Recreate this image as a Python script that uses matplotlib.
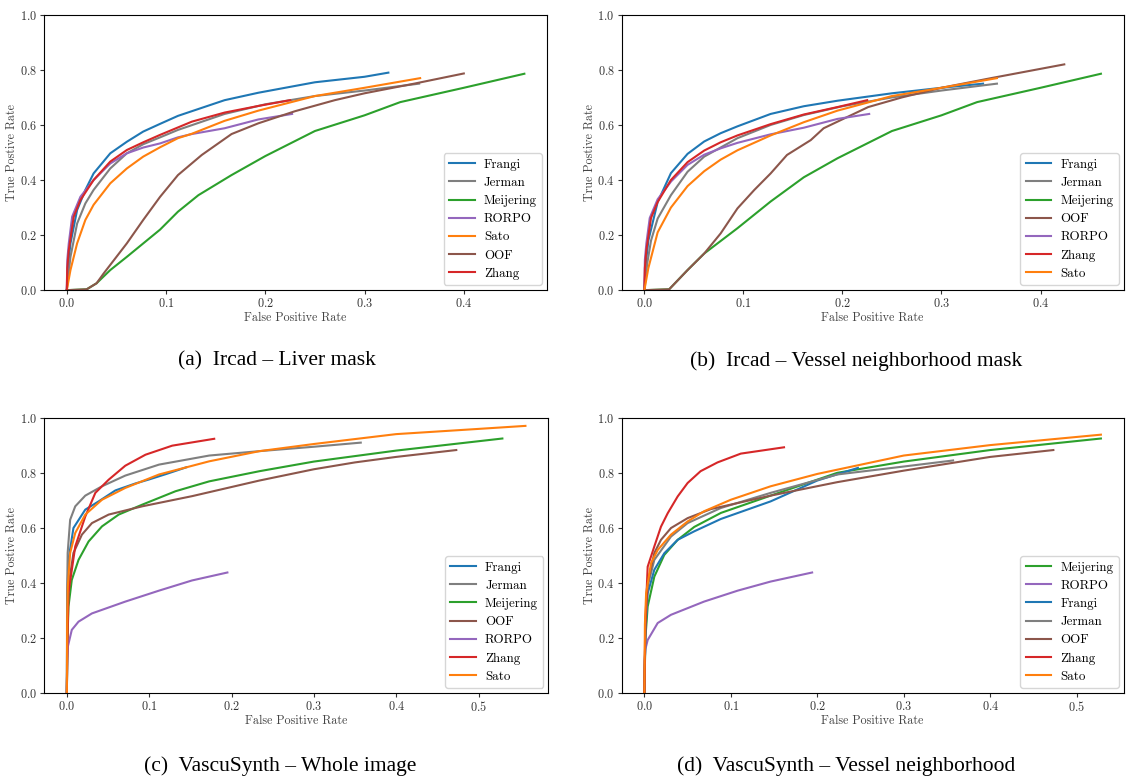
import numpy as np
import matplotlib
matplotlib.use('Agg')
import matplotlib.pyplot as plt

plt.rcParams['font.family'] = ['cmr10', 'DejaVu Serif']
plt.rcParams['axes.formatter.use_mathtext'] = True
plt.rcParams['mathtext.fontset'] = 'cm'

C = {'Frangi': '#1f77b4', 'Jerman': '#7f7f7f', 'Meijering': '#2ca02c', 'RORPO': '#9467bd',
     'Sato': '#ff7f0e', 'OOF': '#8c564b', 'Zhang': '#d62728'}

# ---- (a) Ircad - Liver mask ----
a_frangi_x = [0, 0.001, 0.0037, 0.0104, 0.0187, 0.027, 0.0438, 0.0605, 0.077, 0.094, 0.112, 0.126, 0.159, 0.193, 0.25, 0.3, 0.324]
a_frangi_y = [0, 0.08, 0.17, 0.291, 0.364, 0.424, 0.497, 0.539, 0.576, 0.604, 0.633, 0.65, 0.69, 0.717, 0.755, 0.775, 0.79]
a_jerman_x = [0, 0.0037, 0.0104, 0.0187, 0.027, 0.0438, 0.0605, 0.077, 0.094, 0.112, 0.159, 0.2, 0.25, 0.3, 0.355]
a_jerman_y = [0, 0.121, 0.242, 0.315, 0.364, 0.442, 0.497, 0.53, 0.555, 0.582, 0.64, 0.675, 0.705, 0.725, 0.75]
a_meij_x = [0, 0.02, 0.03, 0.0438, 0.0605, 0.094, 0.112, 0.1326, 0.166, 0.2, 0.25, 0.3, 0.336, 0.4, 0.461]
a_meij_y = [0, 0.003, 0.025, 0.073, 0.121, 0.22, 0.285, 0.345, 0.418, 0.487, 0.578, 0.635, 0.683, 0.735, 0.786]
a_rorpo_x = [0, 0.0005, 0.002, 0.0054, 0.0137, 0.027, 0.0438, 0.0605, 0.077, 0.094, 0.112, 0.126, 0.159, 0.193, 0.227]
a_rorpo_y = [0, 0.11, 0.17, 0.267, 0.339, 0.40, 0.46, 0.497, 0.518, 0.533, 0.555, 0.567, 0.588, 0.62, 0.64]
a_sato_x = [0, 0.0037, 0.0104, 0.0187, 0.027, 0.0438, 0.0605, 0.077, 0.094, 0.112, 0.126, 0.159, 0.193, 0.25, 0.3, 0.356]
a_sato_y = [0, 0.073, 0.17, 0.255, 0.31, 0.388, 0.442, 0.485, 0.519, 0.552, 0.568, 0.615, 0.652, 0.705, 0.735, 0.77]
a_oof_x = [0, 0.02, 0.03, 0.037, 0.0605, 0.077, 0.094, 0.112, 0.136, 0.166, 0.193, 0.23, 0.27, 0.3, 0.35, 0.4]
a_oof_y = [0, 0.003, 0.025, 0.06, 0.17, 0.255, 0.339, 0.418, 0.491, 0.567, 0.606, 0.65, 0.69, 0.715, 0.75, 0.787]
a_zhang_x = [0, 0.0005, 0.002, 0.007, 0.0137, 0.027, 0.0438, 0.0605, 0.077, 0.094, 0.112, 0.126, 0.159, 0.193, 0.225]
a_zhang_y = [0, 0.08, 0.145, 0.267, 0.327, 0.40, 0.467, 0.509, 0.537, 0.564, 0.591, 0.612, 0.645, 0.669, 0.69]

# ---- (b) Ircad - Vessel neighborhood mask ----
b_frangi_x = [0, 0.001, 0.004, 0.0134, 0.0268, 0.0436, 0.0604, 0.077, 0.094, 0.1275, 0.161, 0.195, 0.25, 0.3, 0.342]
b_frangi_y = [0, 0.08, 0.18, 0.32, 0.425, 0.495, 0.54, 0.57, 0.595, 0.64, 0.668, 0.688, 0.715, 0.735, 0.75]
b_jerman_x = [0, 0.003, 0.0067, 0.0134, 0.0268, 0.0436, 0.0604, 0.094, 0.1275, 0.161, 0.2, 0.25, 0.3, 0.356]
b_jerman_y = [0, 0.10, 0.18, 0.26, 0.345, 0.43, 0.485, 0.552, 0.60, 0.636, 0.668, 0.70, 0.725, 0.75]
b_meij_x = [0, 0.025, 0.0436, 0.0604, 0.094, 0.1275, 0.161, 0.195, 0.25, 0.3, 0.336, 0.4, 0.461]
b_meij_y = [0, 0.003, 0.073, 0.133, 0.225, 0.322, 0.41, 0.479, 0.578, 0.635, 0.683, 0.735, 0.786]
b_oof_x = [0, 0.025, 0.0436, 0.0604, 0.077, 0.094, 0.111, 0.1275, 0.144, 0.168, 0.181, 0.195, 0.226, 0.26, 0.3, 0.35, 0.424]
b_oof_y = [0, 0.003, 0.073, 0.133, 0.206, 0.297, 0.364, 0.424, 0.491, 0.545, 0.588, 0.612, 0.665, 0.70, 0.735, 0.77, 0.82]
b_rorpo_x = [0, 0.0005, 0.002, 0.0054, 0.0134, 0.027, 0.0436, 0.0604, 0.077, 0.094, 0.1275, 0.161, 0.195, 0.227]
b_rorpo_y = [0, 0.11, 0.17, 0.262, 0.33, 0.395, 0.455, 0.492, 0.515, 0.535, 0.566, 0.59, 0.622, 0.64]
b_zhang_x = [0, 0.0005, 0.002, 0.0067, 0.0134, 0.0268, 0.0436, 0.0604, 0.077, 0.094, 0.1275, 0.161, 0.195, 0.225]
b_zhang_y = [0, 0.08, 0.145, 0.262, 0.32, 0.40, 0.465, 0.507, 0.537, 0.562, 0.603, 0.638, 0.665, 0.69]
b_sato_x = [0, 0.004, 0.0134, 0.0268, 0.0436, 0.0604, 0.077, 0.094, 0.1275, 0.161, 0.195, 0.25, 0.3, 0.356]
b_sato_y = [0, 0.08, 0.21, 0.30, 0.378, 0.432, 0.474, 0.508, 0.562, 0.61, 0.652, 0.705, 0.735, 0.77]

# ---- (c) VascuSynth - Whole image ----
c_frangi_x = [0, 0.0005, 0.002, 0.008, 0.0224, 0.0386, 0.059, 0.083, 0.1, 0.12, 0.145]
c_frangi_y = [0, 0.35, 0.485, 0.601, 0.668, 0.698, 0.738, 0.763, 0.778, 0.797, 0.822]
c_jerman_x = [0, 0.0003, 0.001, 0.004, 0.0102, 0.0224, 0.0427, 0.071, 0.112, 0.173, 0.234, 0.3, 0.357]
c_jerman_y = [0, 0.35, 0.51, 0.631, 0.68, 0.719, 0.753, 0.792, 0.832, 0.865, 0.881, 0.897, 0.912]
c_meij_x = [0, 0.0008, 0.002, 0.006, 0.0142, 0.0264, 0.0427, 0.063, 0.0915, 0.132, 0.173, 0.234, 0.3, 0.4, 0.529]
c_meij_y = [0, 0.2, 0.315, 0.412, 0.485, 0.552, 0.607, 0.65, 0.686, 0.735, 0.771, 0.808, 0.843, 0.883, 0.927]
c_oof_x = [0, 0.0008, 0.002, 0.008, 0.0183, 0.0305, 0.0508, 0.0915, 0.152, 0.234, 0.3, 0.35, 0.4, 0.473]
c_oof_y = [0, 0.25, 0.389, 0.51, 0.577, 0.619, 0.65, 0.68, 0.717, 0.774, 0.815, 0.84, 0.86, 0.885]
c_rorpo_x = [0, 0.0004, 0.0012, 0.006, 0.0142, 0.0305, 0.071, 0.112, 0.152, 0.195]
c_rorpo_y = [0, 0.12, 0.169, 0.23, 0.26, 0.29, 0.333, 0.373, 0.41, 0.439]
c_zhang_x = [0, 0.0008, 0.002, 0.0102, 0.0224, 0.0346, 0.0508, 0.071, 0.0955, 0.128, 0.179]
c_zhang_y = [0, 0.2, 0.365, 0.534, 0.643, 0.729, 0.777, 0.828, 0.868, 0.901, 0.926]
c_sato_x = [0, 0.0004, 0.0012, 0.004, 0.0102, 0.0224, 0.0427, 0.071, 0.112, 0.173, 0.234, 0.3, 0.4, 0.5, 0.557]
c_sato_y = [0, 0.25, 0.389, 0.51, 0.583, 0.65, 0.704, 0.747, 0.796, 0.844, 0.881, 0.907, 0.943, 0.962, 0.973]

# ---- (d) VascuSynth - Vessel neighborhood ----
d_meij_x = [0, 0.0012, 0.0038, 0.0115, 0.023, 0.0385, 0.0577, 0.0885, 0.146, 0.223, 0.3, 0.4, 0.528]
d_meij_y = [0, 0.2, 0.315, 0.424, 0.503, 0.558, 0.605, 0.656, 0.719, 0.802, 0.843, 0.885, 0.927]
d_rorpo_x = [0, 0.0004, 0.0012, 0.0038, 0.0154, 0.0308, 0.069, 0.108, 0.146, 0.194]
d_rorpo_y = [0, 0.12, 0.16, 0.193, 0.255, 0.285, 0.333, 0.373, 0.406, 0.439]
d_frangi_x = [0, 0.0012, 0.0038, 0.0115, 0.023, 0.0385, 0.0577, 0.0885, 0.146, 0.2, 0.247]
d_frangi_y = [0, 0.22, 0.363, 0.449, 0.509, 0.558, 0.589, 0.634, 0.698, 0.774, 0.82]
d_jerman_x = [0, 0.0012, 0.0038, 0.0115, 0.0308, 0.05, 0.0885, 0.146, 0.223, 0.3, 0.357]
d_jerman_y = [0, 0.25, 0.388, 0.485, 0.57, 0.619, 0.674, 0.729, 0.796, 0.825, 0.847]
d_oof_x = [0, 0.0012, 0.0038, 0.0115, 0.0192, 0.0308, 0.05, 0.077, 0.108, 0.146, 0.223, 0.3, 0.4, 0.473]
d_oof_y = [0, 0.25, 0.40, 0.51, 0.558, 0.601, 0.637, 0.67, 0.692, 0.719, 0.768, 0.81, 0.86, 0.885]
d_zhang_x = [0, 0.001, 0.0038, 0.0115, 0.0192, 0.027, 0.0385, 0.05, 0.065, 0.0846, 0.1115, 0.1615]
d_zhang_y = [0, 0.25, 0.46, 0.534, 0.606, 0.655, 0.716, 0.765, 0.808, 0.84, 0.872, 0.895]
d_sato_x = [0, 0.0006, 0.002, 0.0077, 0.0154, 0.0308, 0.05, 0.069, 0.1, 0.146, 0.2, 0.3, 0.4, 0.528]
d_sato_y = [0, 0.25, 0.363, 0.473, 0.521, 0.577, 0.625, 0.662, 0.704, 0.753, 0.798, 0.865, 0.903, 0.941]

panels = [
    ([0.039, 0.628, 0.447, 0.353], '(a)  Ircad – Liver mask', 361, 0.246,
     [('Frangi', a_frangi_x, a_frangi_y), ('Jerman', a_jerman_x, a_jerman_y),
      ('Meijering', a_meij_x, a_meij_y), ('RORPO', a_rorpo_x, a_rorpo_y),
      ('Sato', a_sato_x, a_sato_y), ('OOF', a_oof_x, a_oof_y), ('Zhang', a_zhang_x, a_zhang_y)]),
    ([0.552, 0.628, 0.446, 0.353], '(b)  Ircad – Vessel neighborhood mask', 361, 0.760,
     [('Frangi', b_frangi_x, b_frangi_y), ('Jerman', b_jerman_x, b_jerman_y),
      ('Meijering', b_meij_x, b_meij_y), ('OOF', b_oof_x, b_oof_y),
      ('RORPO', b_rorpo_x, b_rorpo_y), ('Zhang', b_zhang_x, b_zhang_y), ('Sato', b_sato_x, b_sato_y)]),
    ([0.039, 0.1115, 0.448, 0.352], '(c)  VascuSynth – Whole image', 766, 0.249,
     [('Frangi', c_frangi_x, c_frangi_y), ('Jerman', c_jerman_x, c_jerman_y),
      ('Meijering', c_meij_x, c_meij_y), ('OOF', c_oof_x, c_oof_y),
      ('RORPO', c_rorpo_x, c_rorpo_y), ('Zhang', c_zhang_x, c_zhang_y), ('Sato', c_sato_x, c_sato_y)]),
    ([0.552, 0.1115, 0.446, 0.352], '(d)  VascuSynth – Vessel neighborhood', 766, 0.751,
     [('Meijering', d_meij_x, d_meij_y), ('RORPO', d_rorpo_x, d_rorpo_y),
      ('Frangi', d_frangi_x, d_frangi_y), ('Jerman', d_jerman_x, d_jerman_y),
      ('OOF', d_oof_x, d_oof_y), ('Zhang', d_zhang_x, d_zhang_y), ('Sato', d_sato_x, d_sato_y)]),
]

fig = plt.figure(figsize=(11.26, 7.8), dpi=100)
for rect, caption, cap_y, cap_x, curves in panels:
    ax = fig.add_axes(rect)
    for name, xs, ys in curves:
        ax.plot(xs, ys, color=C[name], label=name, lw=1.5)
    ax.set_ylim(0, 1.0)
    ax.set_yticks(np.arange(0, 1.01, 0.2))
    ax.tick_params(labelsize=8.8, length=2.8, pad=2.2, colors='#333333', labelcolor='#333333')
    ax.set_xlabel('False Positive Rate', fontsize=8.7, color='#444444', labelpad=1)
    ax.set_ylabel('True Postive Rate', fontsize=8.7, color='#444444', labelpad=1)
    ax.legend(loc='lower right', fontsize=9.3, handlelength=2.0, handletextpad=0.7,
              labelspacing=0.47, borderaxespad=0.4)
    fig.text(cap_x, 1 - cap_y / 780, caption, ha='center', va='center',
             fontsize=15.5, family='Liberation Serif')

fig.savefig('out.png', dpi=100)
